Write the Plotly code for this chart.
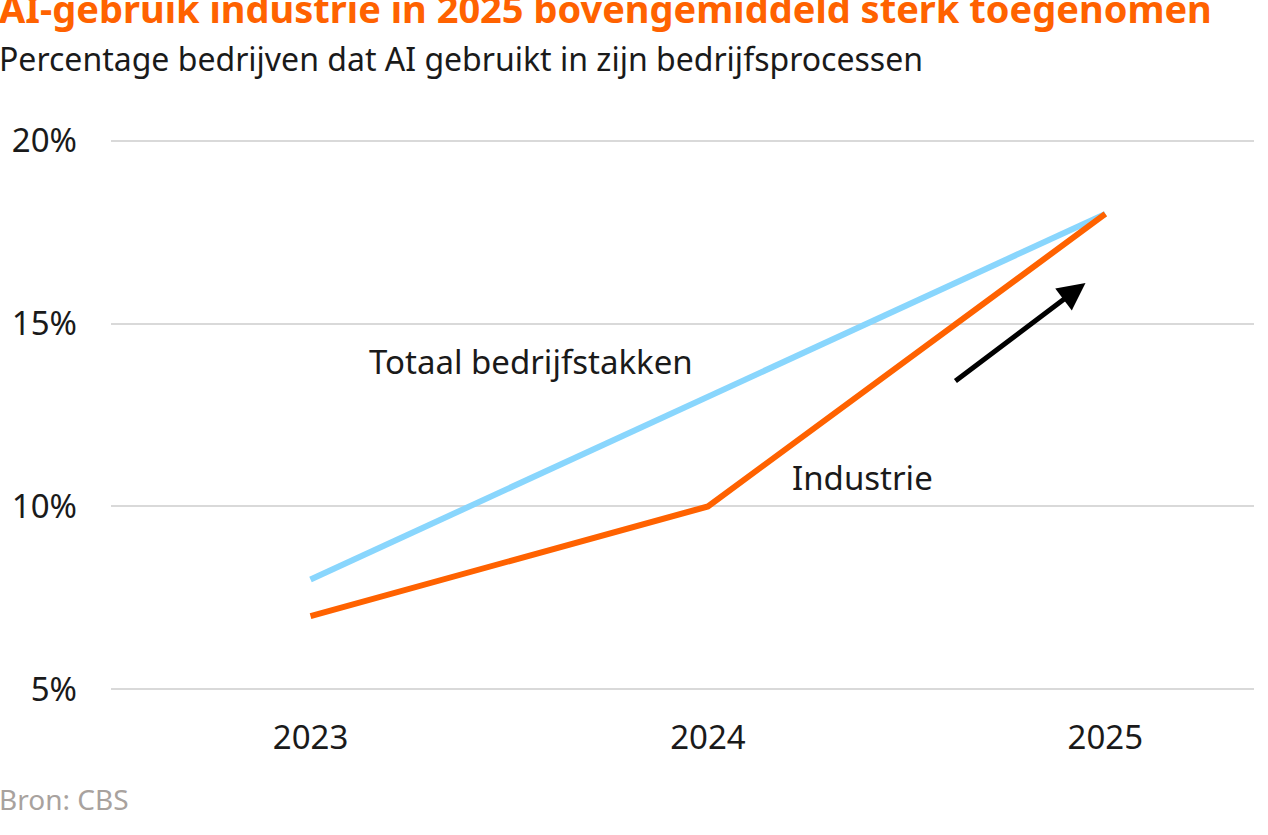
import plotly.graph_objects as go

years = ["2023", "2024", "2025"]
totaal = [8, 13, 18]
industrie = [7, 10, 18]
y_ticks = [5, 10, 15, 20]
y_tick_labels = ["5%", "10%", "15%", "20%"]

ORANGE = "#FF6200"
BLUE = "#89D6FD"
FONT = "Noto Sans"

fig = go.Figure()
fig.add_trace(go.Scatter(x=years, y=totaal, mode="lines", name="Totaal bedrijfstakken",
                         line=dict(color=BLUE, width=6), hoverinfo="skip"))
fig.add_trace(go.Scatter(x=years, y=industrie, mode="lines", name="Industrie",
                         line=dict(color=ORANGE, width=6), hoverinfo="skip"))

fig.update_layout(
    width=1268, height=835,
    margin=dict(l=108, r=14, t=139, b=144),
    paper_bgcolor="white", plot_bgcolor="white",
    showlegend=False,
    font=dict(family=FONT, color="#000000", size=32),
    xaxis=dict(type="category", range=[-0.502, 2.374], showgrid=False, zeroline=False,
               showline=False, ticks="", tickfont=dict(size=33, color="#1a1a1a"),
               ticklabelstandoff=24),
    yaxis=dict(range=[4.95, 20.05], tickvals=y_ticks, ticktext=y_tick_labels,
               showgrid=True, gridcolor="#d9d9d9", gridwidth=2, zeroline=False,
               showline=False, ticks="", tickfont=dict(size=33, color="#1a1a1a"),
               ticklabelstandoff=33),
)

ann = [
    dict(text="<b>AI-gebruik industrie in 2025 bovengemiddeld sterk toegenomen</b>",
         xref="paper", yref="paper", x=-0.0995, y=1.2372, xanchor="left", yanchor="middle",
         showarrow=False, font=dict(size=38, color=ORANGE, family=FONT)),
    dict(text="Percentage bedrijven dat AI gebruikt in zijn bedrijfsprocessen",
         xref="paper", yref="paper", x=-0.0995, y=1.146, xanchor="left", yanchor="middle",
         showarrow=False, font=dict(size=32, color="#1a1a1a", family=FONT)),
    dict(text="Bron: CBS", xref="paper", yref="paper", x=-0.0995, y=-0.195,
         xanchor="left", yanchor="middle", showarrow=False,
         font=dict(size=28, color="#a8a29e", family=FONT)),
    dict(text="Totaal bedrijfstakken", xref="x", yref="y", x=0.143, y=13.96,
         xanchor="left", yanchor="middle", showarrow=False,
         font=dict(size=33, color="#1a1a1a", family=FONT)),
    dict(text="Industrie", xref="x", yref="y", x=1.207, y=10.78,
         xanchor="left", yanchor="middle", showarrow=False,
         font=dict(size=33, color="#1a1a1a", family=FONT)),
    dict(text="", xref="x", yref="y", x=1.95, y=16.11, axref="x", ayref="y",
         ax=1.619, ay=13.40, showarrow=True, arrowhead=2, arrowsize=1.1,
         arrowwidth=5, arrowcolor="#000000"),
]
fig.update_layout(annotations=ann)

fig.write_html("out.html", config={"displayModeBar": False},
               post_script="document.body.style.margin='0';document.body.style.overflow='hidden';")
